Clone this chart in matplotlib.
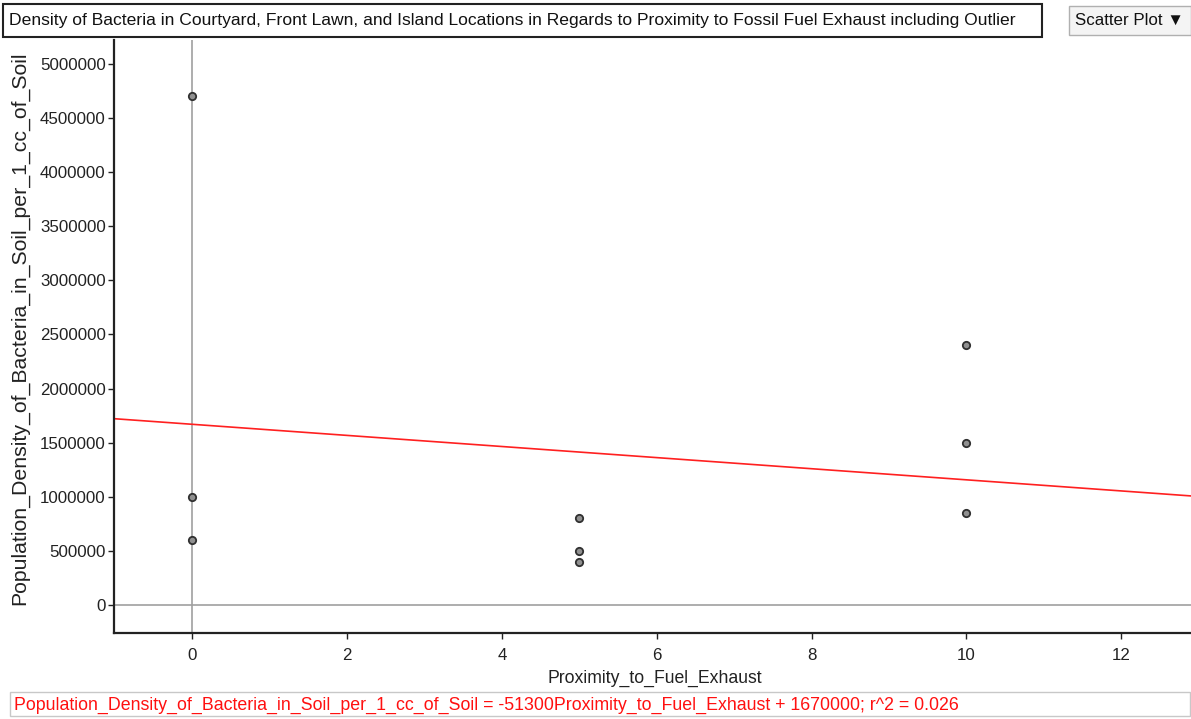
import matplotlib.pyplot as plt
import numpy as np

plt.rcParams['font.family'] = ['Liberation Sans', 'DejaVu Sans']

# -------------------------------------------------------------
proximity = [0, 0, 0, 5, 5, 5, 10, 10, 10]
density = [4700000, 1000000, 600000, 800000, 500000, 400000, 2400000, 1500000, 850000]

slope = -51300
intercept = 1670000
r2 = 0.026

xname = "Proximity_to_Fuel_Exhaust"
yname = "Population_Density_of_Bacteria_in_Soil_per_1_cc_of_Soil"
title = ("Density of Bacteria in Courtyard, Front Lawn, and Island Locations "
         "in Regards to Proximity to Fossil Fuel Exhaust including Outlier")
# -------------------------------------------------------------

W, H = 1191, 719
fig = plt.figure(figsize=(W / 100, H / 100), dpi=100)
ax = fig.add_axes([114 / W, (H - 633) / H, 1 - 114 / W, (633 - 40) / H])

xlim = (-1.01, 12.9)
ylim = (-258000, 5220000)
ax.set_xlim(*xlim)
ax.set_ylim(*ylim)

# reference lines through the origin
ax.axvline(0, color='#a0a0a0', lw=1.2, zorder=1)
ax.axhline(0, color='#a0a0a0', lw=1.2, zorder=1)

# least squares line
xs = np.array(xlim)
ax.plot(xs, slope * xs + intercept, color='#ff2020', lw=1.2, zorder=2)

ax.scatter(proximity, density, s=28, facecolor='#909090', edgecolor='#303030',
           linewidth=1.3, zorder=3)

ax.set_xticks([0, 2, 4, 6, 8, 10, 12])
ax.set_yticks(np.arange(0, 5000001, 500000))
ax.set_yticklabels([str(v) for v in range(0, 5000001, 500000)])
ax.tick_params(axis='both', labelsize=12.2, length=4, width=1, color='#222222',
               labelcolor='#222222', pad=2)
ax.tick_params(axis='x', pad=7)

for side in ('top', 'right'):
    ax.spines[side].set_visible(False)
for side in ('left', 'bottom'):
    ax.spines[side].set_linewidth(1.6)
    ax.spines[side].set_color('#222222')

fig.text(655 / W, 1 - 678 / H, xname, ha='center', va='center',
         fontsize=12.7, color='#222222')
fig.text(20 / W, 1 - 328 / H, yname, ha='center', va='center', rotation=90,
         fontsize=15.3, color='#222222')

# title box
fig.patches.append(plt.Rectangle((3 / W, 1 - 37 / H), 1039 / W, 33 / H,
                                 transform=fig.transFigure, fill=True,
                                 facecolor='white', edgecolor='#222222', lw=1.5))
fig.text(9 / W, 1 - 21 / H, title, ha='left', va='center', fontsize=12.6,
         color='#111111')

# plot type selector
fig.patches.append(plt.Rectangle((1069 / W, 1 - 35 / H), 122 / W, 29 / H,
                                 transform=fig.transFigure, fill=True,
                                 facecolor='#f4f4f4', edgecolor='#b0b0b0', lw=1))
fig.text(1075 / W, 1 - 20 / H, "Scatter Plot \u25bc", ha='left', va='center',
         fontsize=12.2, color='#111111')

# regression equation box
fig.patches.append(plt.Rectangle((10 / W, 1 - 716 / H), 1180 / W, 24 / H,
                                 transform=fig.transFigure, fill=True,
                                 facecolor='white', edgecolor='#c8c8c8', lw=1))
eq = "{} = {}{} + {}; r^2 = {}".format(yname, slope, xname, intercept, r2)
fig.text(14 / W, 1 - 705 / H, eq, ha='left', va='center', fontsize=12.8,
         color='#ff1010')

fig.savefig("out.png", dpi=100)
